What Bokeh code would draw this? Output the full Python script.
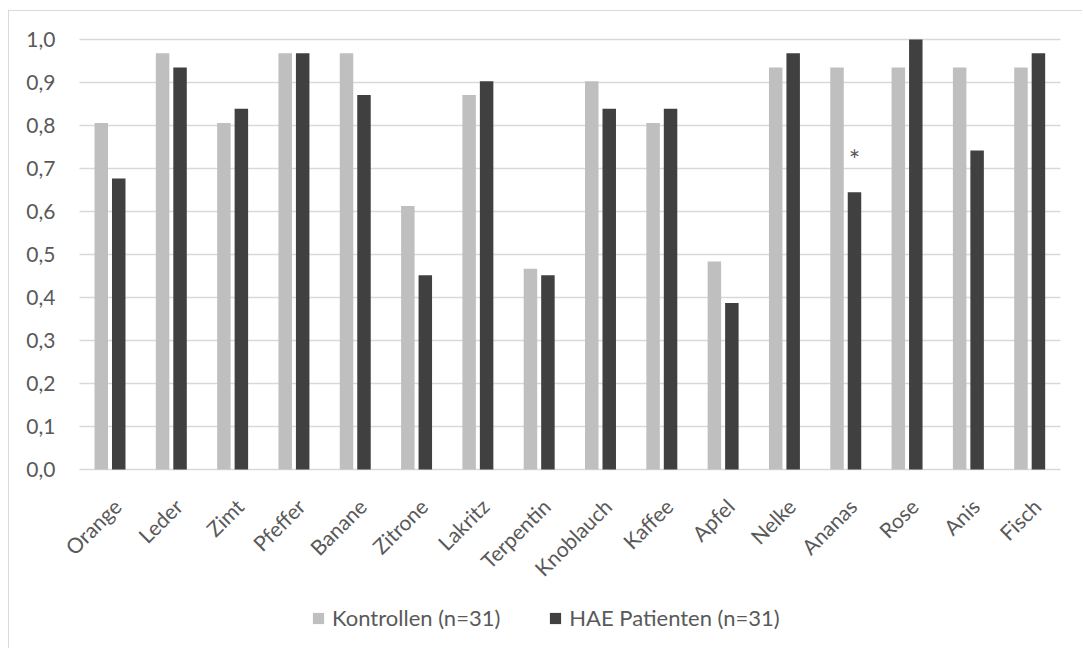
from bokeh.plotting import figure
from bokeh.models import ColumnDataSource, Legend, LegendItem, Range1d
from bokeh.core.properties import value
from bokeh.embed import file_html
from bokeh.resources import INLINE
import math

categories = ["Orange", "Leder", "Zimt", "Pfeffer", "Banane", "Zitrone", "Lakritz", "Terpentin",
              "Knoblauch", "Kaffee", "Apfel", "Nelke", "Ananas", "Rose", "Anis", "Fisch"]
kontrollen = [0.806, 0.968, 0.806, 0.968, 0.968, 0.613, 0.871, 0.467,
              0.903, 0.806, 0.484, 0.935, 0.935, 0.935, 0.935, 0.935]
hae = [0.677, 0.935, 0.839, 0.968, 0.871, 0.452, 0.903, 0.452,
       0.839, 0.839, 0.387, 0.968, 0.645, 1.0, 0.742, 0.968]
series_names = ["Kontrollen (n=31)", "HAE Patienten (n=31)"]
y_ticks = [0.0, 0.1, 0.2, 0.3, 0.4, 0.5, 0.6, 0.7, 0.8, 0.9, 1.0]
y_tick_labels = ["0,0", "0,1", "0,2", "0,3", "0,4", "0,5", "0,6", "0,7", "0,8", "0,9", "1,0"]
significant = ["Ananas"]

FONT = "Lato"
FS = "21px"
TXT = "#595959"
GRID = "#d9d9d9"
C1 = "#bfbfbf"
C2 = "#404040"

# layout (pixels)
FIG_W, FIG_H = 1074, 638
PLOT_LEFT, PLOT_RIGHT = 70.0, 1051.0     # plot area inside figure (x)
PLOT_TOP, ZERO_Y = 28.0, 458.0           # y of 1.0 and of 0.0 inside figure
n = len(categories)
px_cat = (PLOT_RIGHT - PLOT_LEFT) / n
px_unit = ZERO_Y - PLOT_TOP

x_pos = [i + 0.5 for i in range(n)]
src = ColumnDataSource(dict(x=x_pos, cat=categories, k=kontrollen, h=hae))

p = figure(x_range=Range1d(-PLOT_LEFT / px_cat, n + (FIG_W - PLOT_RIGHT) / px_cat),
           y_range=Range1d(-(FIG_H - ZERO_Y) / px_unit, 1.0 + PLOT_TOP / px_unit),
           width=FIG_W, height=FIG_H, output_backend="svg", toolbar_location=None,
           min_border_left=0, min_border_right=0, min_border_top=0, min_border_bottom=0)
p.styles = {"margin-left": "8px", "margin-top": "10px",
            "border-left": "1px solid #d9d9d9", "border-top": "1px solid #d9d9d9"}
p.outline_line_color = None
p.xaxis.visible = False
p.yaxis.visible = False
p.xgrid.visible = False
p.ygrid.visible = False

# horizontal gridlines over the category area
p.segment(x0=0, x1=n, y0=y_ticks, y1=y_ticks, line_color=GRID, line_width=1.5)

# y tick labels
p.text(x=0, y=y_ticks, text=y_tick_labels, x_offset=-24, text_align="right",
       text_baseline="middle", text_font=value(FONT), text_font_size=FS, text_color=TXT)

r1 = p.vbar(x=[v - 0.145 for v in x_pos], top=kontrollen, width=0.22,
            fill_color=C1, line_color=None)
r2 = p.vbar(x=[v + 0.14 for v in x_pos], top=hae, width=0.22,
            fill_color=C2, line_color=None)

# category labels (rotated) below the baseline
p.text(x="x", y=0, text="cat", source=src, angle=math.pi / 4,
       text_align="right", text_baseline="top", x_offset=-2, y_offset=24,
       text_font=value(FONT), text_font_size=FS, text_color=TXT)

# significance marker
sig_x = [x_pos[categories.index(c)] + 0.14 for c in significant]
sig_y = [hae[categories.index(c)] + 0.076 for c in significant]
p.text(x=sig_x, y=sig_y, text=["*"] * len(sig_x),
       text_align="center", text_baseline="middle", text_font=value(FONT),
       text_font_size="27px", text_color=TXT)

legend = Legend(items=[LegendItem(label=series_names[0], renderers=[r1]),
                       LegendItem(label=series_names[1], renderers=[r2])],
                orientation="horizontal", location=(302, 18))
legend.label_text_font = FONT
legend.label_text_font_size = "22px"
legend.label_text_color = TXT
legend.glyph_width = 14
legend.glyph_height = 14
legend.label_standoff = 7
legend.spacing = 48
legend.border_line_color = None
legend.background_fill_alpha = 0
p.add_layout(legend, "center")

open("out.html", "w").write(file_html(p, INLINE))
